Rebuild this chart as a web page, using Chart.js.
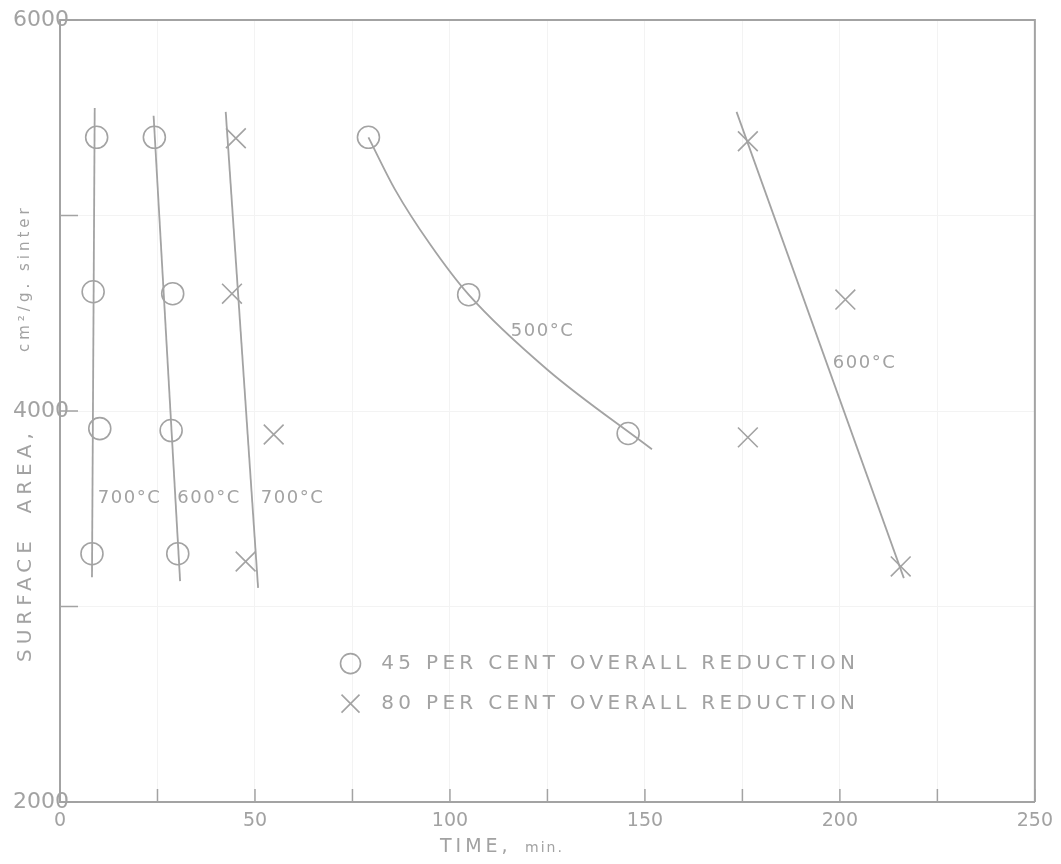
<!DOCTYPE html>
<html>
<head>
<meta charset="utf-8">
<script src="https://cdn.jsdelivr.net/npm/chart.js@4.4.0/dist/chart.umd.min.js"></script>
<style>
  html, body { margin: 0; padding: 0; background: #fff; }
  #wrap { width: 1061px; height: 864px; position: relative; }
</style>
</head>
<body>
<div id="wrap"><canvas id="chart" width="1061" height="864"></canvas></div>
<script>
// 45 per cent overall reduction (circles)
const circleTime = [9.4, 8.5, 10.2, 8.2, 24.2, 28.9, 28.5, 30.2, 79.1, 104.8, 145.7];
const circleArea = [5400, 4610, 3910, 3270, 5400, 4600, 3900, 3270, 5400, 4595, 3885];

// 80 per cent overall reduction (crosses)
const crossTime = [45.1, 44.1, 54.8, 47.6, 176.4, 201.4, 176.4, 215.6];
const crossArea = [5395, 4600, 3880, 3230, 5380, 4570, 3865, 3205];

// hand-drawn curves through the points
const line700aTime = [8.9, 8.2];
const line700aArea = [5550, 3150];
const line600aTime = [24.0, 30.8];
const line600aArea = [5510, 3130];
const line700bTime = [42.5, 50.8];
const line700bArea = [5530, 3095];
const line500Time = [79.1, 86.0, 95.0, 104.8, 125.0, 151.8];
const line500Area = [5400, 5130, 4850, 4595, 4211, 3804];
const line600bTime = [173.5, 216.4];
const line600bArea = [5530, 3145];

const curveLabels = ["700°C", "600°C", "700°C", "500°C", "600°C"];
const curveLabelTime = [9.7, 30.1, 51.5, 115.6, 198.2];
const curveLabelArea = [3554, 3554, 3554, 4410, 4246];

const legendLabels = ["45 PER CENT OVERALL REDUCTION", "80 PER CENT OVERALL REDUCTION"];

const INK = "#a3a3a3";
const TEXT = "#a2a2a2";
const FONT = "'DejaVu Sans', sans-serif";

function zip(xs, ys) {
  return xs.map((x, i) => ({ x, y: ys[i] }));
}

function curve(xs, ys, smooth) {
  return {
    type: "line",
    data: zip(xs, ys),
    borderColor: INK,
    borderWidth: 1.8,
    pointRadius: 0,
    cubicInterpolationMode: smooth ? "monotone" : "default",
    tension: smooth ? 0.4 : 0,
    fill: false
  };
}

function drawCircleMark(ctx, x, y) {
  ctx.beginPath();
  ctx.arc(x, y, 10, 0, Math.PI * 2);
  ctx.stroke();
}

function drawCrossMark(ctx, x, y) {
  ctx.beginPath();
  ctx.moveTo(x - 9, y - 9);
  ctx.lineTo(x + 9, y + 9);
  ctx.moveTo(x + 9, y - 9);
  ctx.lineTo(x - 9, y + 9);
  ctx.stroke();
}

const paperPlugin = {
  id: "paper",
  afterDraw(chart) {
    const { ctx, chartArea: a, scales } = chart;
    const xs = scales.x;
    const ys = scales.y;
    ctx.save();

    // frame top and right
    ctx.strokeStyle = INK;
    ctx.lineWidth = 2;
    ctx.beginPath();
    ctx.moveTo(a.left, a.top);
    ctx.lineTo(a.right, a.top);
    ctx.lineTo(a.right, a.bottom);
    ctx.stroke();

    // inward tick marks
    ctx.lineWidth = 1.5;
    ctx.beginPath();
    xs.ticks.forEach((t) => {
      const px = xs.getPixelForValue(t.value);
      ctx.moveTo(px, a.bottom);
      ctx.lineTo(px, a.bottom - 13);
    });
    ys.ticks.forEach((t) => {
      const py = ys.getPixelForValue(t.value);
      ctx.moveTo(a.left, py);
      ctx.lineTo(a.left + 18, py);
    });
    ctx.stroke();

    // temperature labels
    ctx.fillStyle = TEXT;
    ctx.font = "18px " + FONT;
    ctx.letterSpacing = "1.5px";
    ctx.textBaseline = "middle";
    ctx.textAlign = "left";
    curveLabels.forEach((txt, i) => {
      ctx.fillText(txt, xs.getPixelForValue(curveLabelTime[i]), ys.getPixelForValue(curveLabelArea[i]));
    });

    // legend
    const lx = xs.getPixelForValue(74.5);
    const tx = xs.getPixelForValue(82.4);
    const rows = [2708, 2503].map((v) => ys.getPixelForValue(v));
    ctx.lineWidth = 1.6;
    ctx.strokeStyle = INK;
    drawCircleMark(ctx, lx, rows[0]);
    drawCrossMark(ctx, lx, rows[1]);
    ctx.font = "20px " + FONT;
    ctx.letterSpacing = "4.3px";
    legendLabels.forEach((txt, i) => ctx.fillText(txt, tx, rows[i]));

    // axis titles
    ctx.textBaseline = "alphabetic";
    ctx.font = "19px " + FONT;
    ctx.letterSpacing = "4px";
    ctx.fillText("TIME,", 440, 852);
    ctx.font = "14px " + FONT;
    ctx.letterSpacing = "2px";
    ctx.fillText("min.", 525, 852);

    ctx.translate(31, 0);
    ctx.rotate(-Math.PI / 2);
    ctx.font = "20px " + FONT;
    ctx.letterSpacing = "5px";
    ctx.fillText("SURFACE  AREA,", -662, 0);
    ctx.font = "15px " + FONT;
    ctx.letterSpacing = "4px";
    ctx.fillText("cm²/g. sinter", -352, -2);
    ctx.restore();
  }
};

new Chart(document.getElementById("chart"), {
  data: {
    datasets: [
      curve(line700aTime, line700aArea),
      curve(line600aTime, line600aArea),
      curve(line700bTime, line700bArea),
      curve(line500Time, line500Area, true),
      curve(line600bTime, line600bArea),
      {
        type: "scatter",
        label: "45 per cent",
        data: zip(circleTime, circleArea),
        pointStyle: "circle",
        pointRadius: 11,
        pointBorderWidth: 1.6,
        pointBorderColor: INK,
        pointBackgroundColor: "rgba(0,0,0,0)"
      },
      {
        type: "scatter",
        label: "80 per cent",
        data: zip(crossTime, crossArea),
        pointStyle: "crossRot",
        pointRadius: 14,
        pointBorderWidth: 1.6,
        pointBorderColor: INK
      }
    ]
  },
  options: {
    responsive: false,
    animation: false,
    devicePixelRatio: 1,
    layout: { padding: { top: 20, right: 21, left: 0, bottom: 0 } },
    plugins: {
      legend: { display: false },
      tooltip: { enabled: false }
    },
    scales: {
      x: {
        type: "linear",
        min: 0,
        max: 250,
        afterFit: (s) => { s.height = 62; },
        border: { display: true, color: INK, width: 2 },
        grid: { color: "#f3f3f3", drawTicks: false },
        ticks: {
          stepSize: 25,
          autoSkip: false,
          maxRotation: 0,
          padding: 8,
          color: TEXT,
          font: { family: FONT, size: 19 },
          callback: (v) => (v % 50 === 0 ? String(v) : "")
        }
      },
      y: {
        type: "linear",
        min: 2000,
        max: 6000,
        afterFit: (s) => { s.width = 60; },
        border: { display: true, color: INK, width: 2 },
        grid: { color: "#f3f3f3", drawTicks: false },
        ticks: {
          stepSize: 1000,
          autoSkip: false,
          mirror: true,
          padding: -47,
          color: TEXT,
          font: { family: FONT, size: 22 },
          callback: (v) => (v % 2000 === 0 ? String(v) : "")
        }
      }
    }
  },
  plugins: [paperPlugin]
});
</script>
</body>
</html>
